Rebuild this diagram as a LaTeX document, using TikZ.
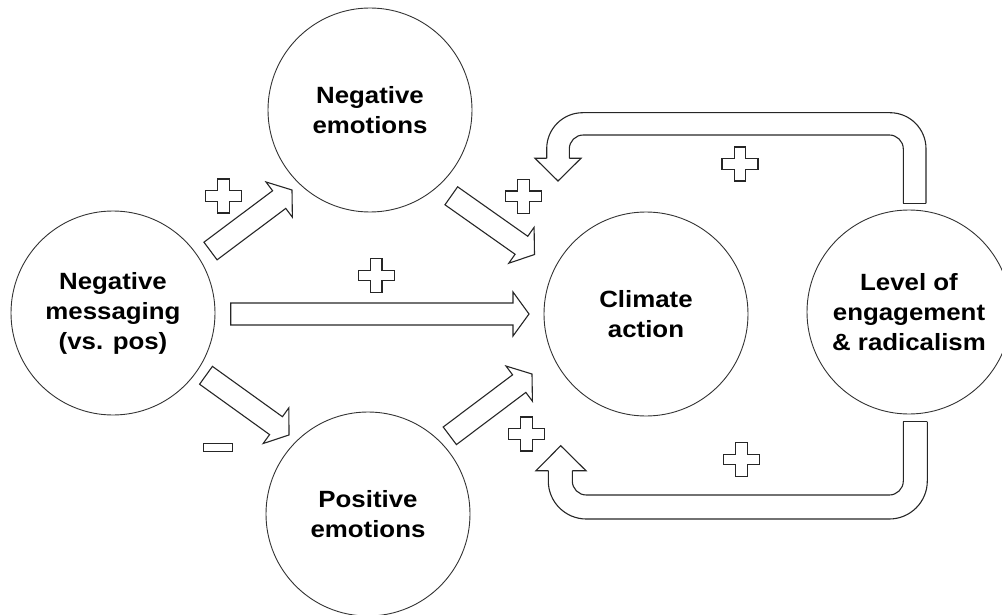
\documentclass[tikz,border=0pt]{standalone}
\usepackage{fontspec}
\newfontfamily\labfont[FakeStretch=1.1]{Liberation Sans}
\usetikzlibrary{calc}
\tikzset{
  circ/.style={circle, draw=black!80, line width=0.9pt, minimum size=204pt, inner sep=0pt,
    align=center, font=\labfont\bfseries\fontsize{23.5pt}{30pt}\selectfont},
  blk/.style={draw=black!85, line width=1.1pt, line join=miter},
  plussign/.pic={\draw[blk] (-5.75,-17) -- (5.75,-17) -- (5.75,-5.25) -- (18,-5.25) -- (18,5.25)
     -- (5.75,5.25) -- (5.75,17) -- (-5.75,17) -- (-5.75,5.25) -- (-18,5.25) -- (-18,-5.25)
     -- (-5.75,-5.25) -- cycle;},
  minussign/.pic={\draw[blk] (-14.5,-4.2) rectangle (14.5,4.2);}
}
\newcommand\blockarrow[2]{%
  \coordinate (hb) at ($(#2)!16pt!(#1)$);
  \draw[blk] ($(#1)!11pt!90:(#2)$) -- ($(hb)!11pt!90:(#2)$) -- ($(hb)!22pt!90:(#2)$) -- (#2)
    -- ($(hb)!22pt!-90:(#2)$) -- ($(hb)!11pt!-90:(#2)$) -- ($(#1)!11pt!-90:(#2)$) -- cycle;}
\begin{document}
\begin{tikzpicture}[x=1pt,y=-1pt]
\useasboundingbox (0,0) rectangle (1002,615);
% circles
\node[circ] (nm) at (113,313) {Negative\\messaging\\(vs. pos)};
\node[circ] (ne) at (370,110) {Negative\\emotions};
\node[circ] (pe) at (368,514) {Positive\\emotions};
\node[circ] (ca) at (646,314) {Climate\\action};
\node[circ] (le) at (909,312) {Level of\\engagement\\\& radicalism};
% arrow end points
\coordinate (a1s) at (210.5,251);  \coordinate (a1e) at (292,190);
\coordinate (a2s) at (230.7,314);  \coordinate (a2e) at (529,314);
\coordinate (a3s) at (206,375.3);  \coordinate (a3e) at (289,435);
\coordinate (a4s) at (451.3,195.8);\coordinate (a4e) at (534.5,254.5);
\coordinate (a5s) at (449.8,435.8);\coordinate (a5e) at (532,374);
\blockarrow{a1s}{a1e}
\blockarrow{a2s}{a2e}
\blockarrow{a3s}{a3e}
\blockarrow{a4s}{a4e}
\blockarrow{a5s}{a5e}
% top feedback loop (from level of engagement to climate action)
\coordinate (ts) at (914.7,203.3);
\coordinate (te) at (558,181);
\draw[blk] ($(ts)+(-11.4,0)$) -- ($(ts)+(11.3,0)$);
\draw[blk, rounded corners=36pt] ($(ts)+(11.3,0)$) -- (926,112.7) -- (546.7,112.7) -- (546.7,158.3);
\draw[blk] (546.7,158.3) -- (535,158.3) -- (te) -- (581,158.3) -- (569.3,158.3);
\draw[blk, rounded corners=14pt] (569.3,158.3) -- (569.3,135) -- (903.3,135) -- ($(ts)+(-11.4,0)$);
% bottom feedback loop
\coordinate (bs) at (915.3,421.7);
\coordinate (be) at (560.7,445.7);
\draw[blk] ($(bs)+(-12,0)$) -- ($(bs)+(12,0)$);
\draw[blk, rounded corners=38pt] ($(bs)+(12,0)$) -- (927.3,519) -- (548.3,519) -- (548.3,470.7);
\draw[blk] (548.3,470.7) -- (536,470.7) -- (be) -- (586,470.7) -- (572.3,470.7);
\draw[blk, rounded corners=14pt] (572.3,470.7) -- (572.3,495) -- (903.3,495) -- ($(bs)+(-12,0)$);
% signs
\pic at (223.3,196) {plussign};
\pic at (376.2,275.5) {plussign};
\pic at (218,447.5) {minussign};
\pic at (523.3,196.3) {plussign};
\pic at (526.3,434) {plussign};
\pic at (740,164) {plussign};
\pic at (741.3,459.5) {plussign};
\end{tikzpicture}
\end{document}
